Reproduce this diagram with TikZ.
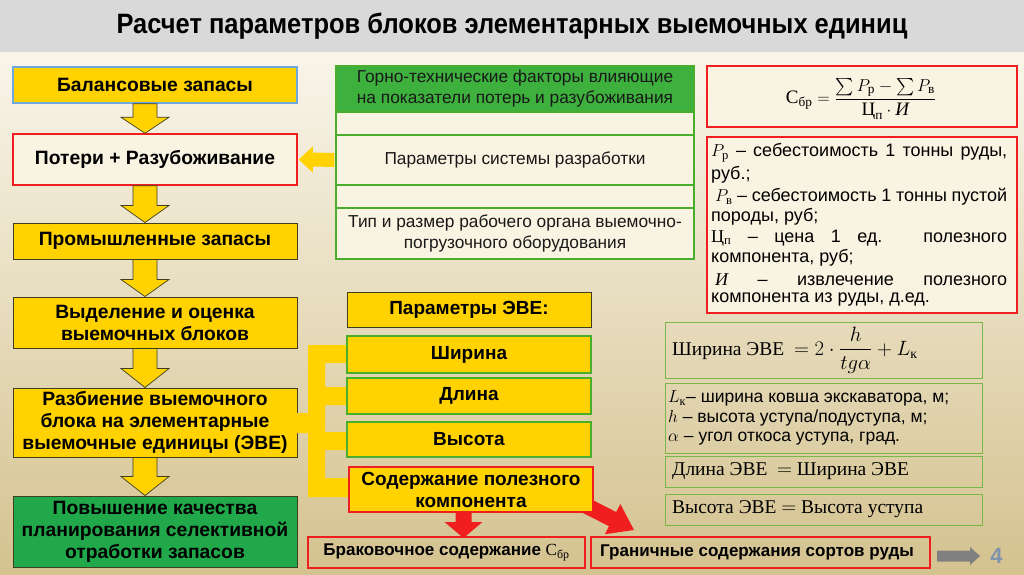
\documentclass[tikz,border=0pt]{standalone}
\usepackage{amsmath}
\usepackage{fontspec}
\setmainfont{Liberation Sans}
\newfontfamily\mserif{Liberation Serif}
\newfontfamily\ttlfont[FakeStretch=0.91]{Liberation Sans}
\usetikzlibrary{calc}
\definecolor{yel}{HTML}{FFD200}
\definecolor{dkb}{HTML}{3F3F1F}
\definecolor{blb}{HTML}{6FA8DC}
\definecolor{redb}{HTML}{F01E1E}
\definecolor{grh}{HTML}{3DB03D}
\definecolor{grf}{HTML}{20A84A}
\definecolor{grb}{HTML}{4AAE2C}
\definecolor{grl}{HTML}{78B848}
\definecolor{cream}{HTML}{F9F3E2}
\definecolor{ttlbg}{HTML}{D9D9D9}
\definecolor{gra}{HTML}{808080}
\definecolor{fourc}{HTML}{7F92AE}
\newcommand\cyr[1]{\text{\mserif\mdseries\upshape #1}}
\newcommand\cyi[1]{\text{\mserif\mdseries\itshape #1}}
\newcommand\dnarr[3]{% from, to, head length
  \filldraw[yarr] ($(#1.south -| ax)+(-12,0)$) -- ($(#2.north -| ax)+(-12,-#3)$) -- ($(#2.north -| ax)+(-24,-#3)$) -- (#2.north -| ax) -- ($(#2.north -| ax)+(24,-#3)$) -- ($(#2.north -| ax)+(12,-#3)$) -- ($(#1.south -| ax)+(12,0)$) -- cycle;}
\tikzset{
  lbox/.style={draw=dkb, line width=1pt, fill=yel, minimum width=284pt, align=center, inner sep=1pt,
     font=\bfseries\fontsize{19.3}{22}\selectfont},
  pbox/.style={fill=yel, minimum width=244pt, align=center, inner sep=1pt,
     font=\bfseries\fontsize{19}{22}\selectfont},
  tbox/.style={draw=grb, line width=1.2pt, fill=cream, minimum width=358pt, align=center, inner sep=1pt,
     font=\fontsize{17.3}{21}\selectfont, text=black!90},
  rbox/.style={draw=grl, line width=0.9pt, minimum width=317pt, inner sep=1pt},
  redbox/.style={draw=redb, line width=1.8pt},
  yarr/.style={fill=yel, draw=dkb, line width=0.7pt},
  dline/.style={anchor=west, inner sep=0pt, font=\fontsize{18}{21}\selectfont},
  sline/.style={anchor=west, inner sep=0pt, font=\mserif\fontsize{19.5}{23}\selectfont},
}
\begin{document}
\begin{tikzpicture}[x=1pt,y=-1pt]
\useasboundingbox (0,0) rectangle (1024,574);
% background
\shade[top color={rgb,255:red,249;green,245;blue,234}, middle color={rgb,255:red,239;green,229;blue,202}, bottom color={rgb,255:red,212;green,194;blue,143}] (0,52) rectangle (1024,574);
\fill[ttlbg] (0,0) rectangle (1024,52);
\node (title) at (512,26) {\ttlfont\bfseries\fontsize{28}{30}\selectfont Расчет параметров блоков элементарных выемочных единиц};
\coordinate (ax) at (145,0);
% left column
\node[lbox, draw=blb, line width=1.5pt, minimum height=36pt] (L1) at (155,85) {Балансовые запасы};
\node[lbox, draw=redb, line width=1.5pt, fill=cream, minimum height=51pt] (L2) at (155,159.5) {Потери + Разубоживание};
\node[lbox, minimum height=36pt] (L3) at (155,241) {Промышленные запасы};
\node[lbox, minimum height=51pt] (L4) at (155,322.5) {Выделение и оценка\\выемочных блоков};
\node[lbox, minimum height=69pt] (L5) at (155,422.5) {Разбиение выемочного\\блока на элементарные\\выемочные единицы (ЭВЕ)};
\node[lbox, fill=grf, minimum height=71pt] (L6) at (155,531.5) {Повышение качества\\планирования селективной\\отработки запасов};
\dnarr{L1}{L2}{16}
\dnarr{L2}{L3}{17}
\dnarr{L3}{L4}{17}
\dnarr{L4}{L5}{19}
\dnarr{L5}{L6}{19}
% factors table
\node[tbox, fill=grh, minimum height=46pt] (T0) at (515,89) {Горно-технические факторы влияющие\\на показатели потерь и разубоживания};
\node[tbox, minimum height=23pt] (T1) at (515,123.5) {};
\node[tbox, minimum height=50pt] (T2) at (515,160) {Параметры системы разработки};
\node[tbox, minimum height=23pt] (T3) at (515,196.5) {};
\node[tbox, minimum height=51pt] (T4) at (515,233.5) {Тип и размер рабочего органа выемочно-\\погрузочного оборудования};
\fill[yel] ($(T2.west)+(-1,-7)$) -- ($(L2.east)+(15,-7)$) -- ($(L2.east)+(15,-13)$) -- ($(L2.east)+(1,0)$) -- ($(L2.east)+(15,13)$) -- ($(L2.east)+(15,7)$) -- ($(T2.west)+(-1,7)$) -- cycle;
% formula boxes
\node[redbox, fill=cream, minimum width=310pt, minimum height=61pt] (F1) at (862,96.5) {};
\node[inner sep=0pt] (F1t) at (861,99) {\fontsize{19}{22}\selectfont $\displaystyle \cyr{С}_{\cyr{бр}} = \frac{\sum P_{\cyr{р}} - \sum P_{\cyr{в}}}{\cyr{Ц}_{\cyr{п}}\cdot \cyi{И}}$};
\node[redbox, fill=cream, minimum width=310pt, minimum height=176pt] (F2) at (862,225) {};
\node[dline] (d1) at (711,153) {\makebox[296pt][s]{$P_{\cyr{р}}$ – себестоимость 1 тонны руды,}};
\node[dline] (d2) at (711,175) {руб.;};
\node[dline] (d3) at (711,197) {\makebox[296pt][s]{\hspace{4pt}$P_{\cyr{в}}$ – себестоимость 1 тонны пустой}};
\node[dline] (d4) at (711,217) {породы, руб;};
\node[dline] (d5) at (711,238) {\makebox[296pt][s]{{\mserif Ц}$_{\cyr{п}}$ – цена 1 ед. полезного}};
\node[dline] (d6) at (711,258) {компонента, руб;};
\node[dline] (d7) at (711,280) {\makebox[296pt][s]{\hspace{4pt}{\mserif\itshape И} – извлечение полезного}};
\node[dline] (d8) at (711,300) {компонента из руды, д.ед.};
% EVE parameters
\fill[yel] (308,345) -- (347,345) -- (347,363) -- (325,363) -- (325,387) -- (347,387) -- (347,405) -- (325,405) -- (325,432) -- (347,432) -- (347,450) -- (325,450) -- (325,478) -- (349,478) -- (349,497) -- (308,497) -- (308,433) -- (297,433) -- (297,413) -- (308,413) -- cycle;
\node[pbox, draw=dkb, line width=1pt, minimum height=35pt] (PH) at (469,309.5) {Параметры ЭВЕ:};
\node[pbox, draw=grb, line width=1.8pt, minimum height=37pt] (P1) at (469,354.5) {Ширина};
\node[pbox, draw=grb, line width=1.8pt, minimum height=36pt] (P2) at (469,396) {Длина};
\node[pbox, draw=grb, line width=1.8pt, minimum height=35pt] (P3) at (469,439.5) {Высота};
% red arrows
\fill[redb] (455.5,512) -- (455.5,522) -- (444.5,522) -- (463.5,538) -- (482.5,522) -- (471.5,522) -- (471.5,512) -- cycle;
\fill[redb] (571.4,507.1) -- (609,526.2) -- (604.9,534.2) -- (634,530) -- (620.3,504) -- (616.2,512) -- (578.6,492.9) -- cycle;
\node[pbox, draw=redb, line width=1.8pt, minimum height=45pt] (P4) at (471,489.5) {Содержание полезного\\компонента};
% bottom boxes
\node[redbox, minimum width=277pt, minimum height=31pt, font=\bfseries\fontsize{17}{20}\selectfont] (B1) at (446.5,552.5) {Браковочное содержание $\cyr{С}_{\cyr{бр}}$};
\node[redbox, minimum width=339pt, minimum height=31pt] (B2) at (760.5,552.5) {};
\node[anchor=west, inner sep=0pt, font=\bfseries\fontsize{17}{20}\selectfont] (B2t) at (600,552.5) {Граничные содержания сортов руды};
% gray arrow and page number
\coordinate (ga) at (937,556);
\node[inner sep=0pt, font=\bfseries\fontsize{22}{24}\selectfont, text=fourc] (num) at (996.5,556) {4};
\fill[gra] (ga) ++(0,-5.5) -- (970,550.5) -- (970,547) -- (980,556) -- (970,565) -- (970,561.5) -- (937,561.5) -- cycle;
% right formula boxes
\node[rbox, minimum height=56pt] (R1) at (823.5,350) {};
\node[sline] (R1t) at (672,350) {Ширина ЭВЕ \ $= 2\cdot\dfrac{h}{tg\alpha} + L_{\cyr{к}}$};
\node[rbox, minimum height=70pt] (R2) at (823.5,418) {};
\node[anchor=west, inner sep=0pt, align=left, font=\fontsize{17.5}{19.5}\selectfont] (R2t) at (668,418) {$L_{\cyr{к}}$– ширина ковша экскаватора, м;\\$h$ – высота уступа/подуступа, м;\\$\alpha$ – угол откоса уступа, град.};
\node[rbox, minimum height=31pt] (R3) at (823.5,471.5) {};
\node[sline] (R3t) at (672,471.5) {Длина ЭВЕ \ $=$ Ширина ЭВЕ};
\node[rbox, minimum height=31pt] (R4) at (823.5,509.5) {};
\node[sline] (R4t) at (672,509.5) {Высота ЭВЕ $=$ Высота уступа};
\end{tikzpicture}
\end{document}
